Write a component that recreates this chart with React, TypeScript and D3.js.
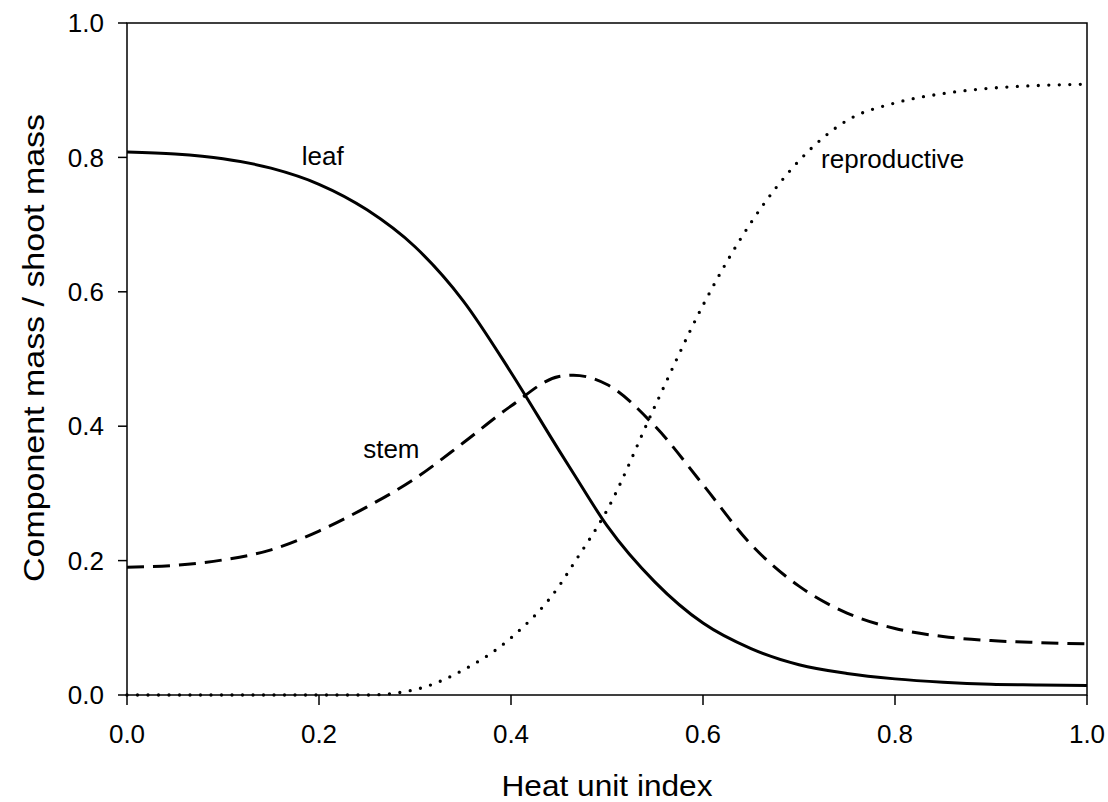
import React from "react";
import * as d3 from "d3";

const hui = [0, 0.05, 0.1, 0.15, 0.2, 0.25, 0.3, 0.35, 0.4, 0.45, 0.465, 0.5, 0.55, 0.6, 0.65, 0.7, 0.75, 0.8, 0.85, 0.9, 0.95, 1.0];
const leaf = [0.808, 0.805, 0.798, 0.784, 0.760, 0.722, 0.667, 0.587, 0.480, 0.364, 0.330, 0.252, 0.168, 0.107, 0.069, 0.045, 0.032, 0.024, 0.019, 0.016, 0.015, 0.014];
const stem = [0.190, 0.193, 0.201, 0.216, 0.244, 0.280, 0.322, 0.375, 0.430, 0.474, 0.476, 0.462, 0.400, 0.313, 0.224, 0.162, 0.122, 0.099, 0.087, 0.081, 0.078, 0.076];
const reproductive = [0, 0, 0, 0, 0, 0, 0.008, 0.037, 0.085, 0.162, 0.195, 0.275, 0.430, 0.580, 0.703, 0.795, 0.855, 0.881, 0.895, 0.903, 0.907, 0.909];

const xTicks = [0, 0.2, 0.4, 0.6, 0.8, 1.0];
const yTicks = [0, 0.2, 0.4, 0.6, 0.8, 1.0];

const labels = [
  { text: "leaf", x: 0.182, y: 0.788 },
  { text: "stem", x: 0.246, y: 0.352 },
  { text: "reproductive", x: 0.723, y: 0.784 },
];

const W = 1108;
const H = 802;
const FONT = "Liberation Sans, Arial, Helvetica, sans-serif";

export default function App() {
  const x = d3.scaleLinear().domain([0, 1]).range([127, 1087]);
  const y = d3.scaleLinear().domain([0, 1]).range([695, 23]);

  const line = (vals: number[]) =>
    d3
      .line<number>()
      .x((_, i) => x(hui[i]))
      .y((v) => y(v))
      .curve(d3.curveMonotoneX)(vals) || "";

  return (
    <svg
      width={W}
      height={H}
      style={{ position: "absolute", left: 0, top: 0, background: "#fff" }}
      fontFamily={FONT}
    >
      <rect x={0} y={0} width={W} height={H} fill="#fff" />
      {/* frame */}
      <rect x={x(0)} y={y(1)} width={x(1) - x(0)} height={y(0) - y(1)} fill="none" stroke="#000" strokeWidth={1.5} />
      {/* y ticks */}
      {yTicks.map((t) => (
        <g key={"y" + t}>
          <line x1={x(0) - 9} x2={x(0)} y1={y(t)} y2={y(t)} stroke="#000" strokeWidth={1.5} />
          <text x={104} y={y(t)} dy="0.35em" textAnchor="end" fontSize={26} fill="#000">
            {t.toFixed(1)}
          </text>
        </g>
      ))}
      {/* x ticks */}
      {xTicks.map((t) => (
        <g key={"x" + t}>
          <line x1={x(t)} x2={x(t)} y1={y(0)} y2={y(0) + 10} stroke="#000" strokeWidth={1.5} />
          <text x={x(t)} y={743} textAnchor="middle" fontSize={26} fill="#000">
            {t.toFixed(1)}
          </text>
        </g>
      ))}
      {/* series */}
      <path d={line(leaf)} fill="none" stroke="#000" strokeWidth={3} />
      <path d={line(stem)} fill="none" stroke="#000" strokeWidth={3} strokeDasharray="17 9" />
      <path d={line(reproductive)} fill="none" stroke="#000" strokeWidth={3.3} strokeDasharray="0 10.5" strokeLinecap="round" />
      {/* labels */}
      {labels.map((l) => (
        <text key={l.text} x={x(l.x)} y={y(l.y)} fontSize={26} fill="#000">
          {l.text}
        </text>
      ))}
      {/* axis titles */}
      <text
        x={(x(0) + x(1)) / 2}
        y={796}
        textAnchor="middle"
        fontSize={30}
        textLength={211}
        lengthAdjust="spacingAndGlyphs"
        fill="#000"
      >
        Heat unit index
      </text>
      <text
        transform={`translate(44, 348) rotate(-90)`}
        textAnchor="middle"
        fontSize={30}
        textLength={468}
        lengthAdjust="spacingAndGlyphs"
        fill="#000"
      >
        Component mass / shoot mass
      </text>
    </svg>
  );
}
